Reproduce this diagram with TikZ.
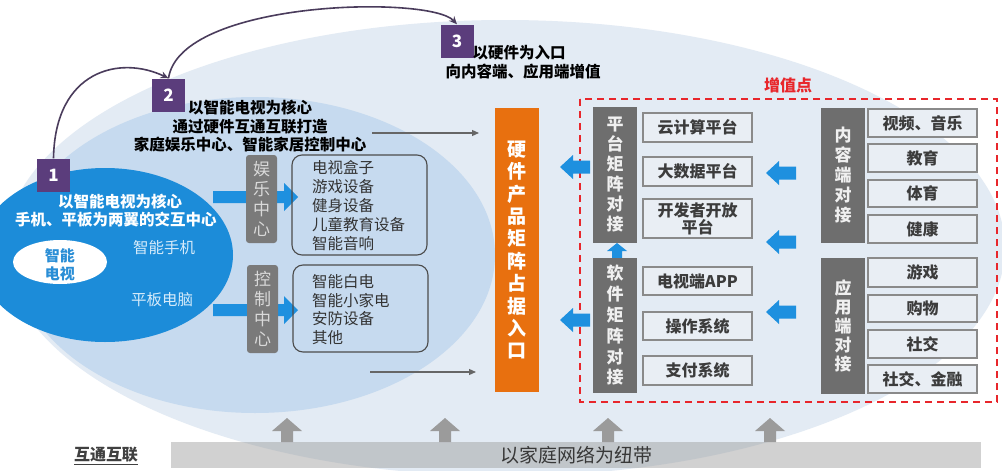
\documentclass[tikz,border=0pt]{standalone}
\usepackage{fontspec}
\setmainfont{Noto Sans CJK SC}
\usetikzlibrary{arrows.meta}
\definecolor{bgpale}{HTML}{E3EBF4}
\definecolor{midblue}{HTML}{C6DAEF}
\definecolor{darkblue}{HTML}{1C8CD9}
\definecolor{numpurple}{HTML}{5B3D7C}
\definecolor{curvecol}{HTML}{4A3C5C}
\definecolor{tvblue}{HTML}{2A8ED6}
\definecolor{softgray}{HTML}{7A7A7A}
\definecolor{vgray}{HTML}{6E6E6E}
\definecolor{itemfill}{HTML}{E9EEF4}
\definecolor{itemdraw}{HTML}{8A8A8A}
\definecolor{itemtext}{HTML}{3C3C3C}
\definecolor{hworange}{HTML}{E8700F}
\definecolor{valred}{HTML}{E8262B}
\definecolor{arrblue}{HTML}{1E90DF}
\definecolor{upgray}{HTML}{9B9B9B}
\definecolor{phonetext}{HTML}{D6EBFA}
\definecolor{listtext}{HTML}{333333}
\begin{document}
\begin{tikzpicture}[x=1pt,y=-1pt,
  every node/.style={inner sep=0pt},
  numbox/.style={fill=numpurple, text=white, font=\fontsize{17}{17}\selectfont\bfseries, minimum width=33pt, minimum height=33pt},
  boldtxt/.style={align=center, font=\fontsize{15.5}{18.5}\selectfont\bfseries, text=black},
  curve/.style={draw=curvecol, line width=1.6pt, -{Stealth[length=8pt,width=7pt]}},
  thinarrow/.style={draw=gray!80!black, line width=1.2pt, -{Triangle[length=7pt,width=6pt]}},
  centerbox/.style={fill=softgray, rounded corners=3pt, minimum width=31pt, align=center, text=white!85!black, font=\fontsize{17}{20}\selectfont},
  listbox/.style={draw=gray!60!black, line width=1.1pt, rounded corners=10pt, minimum width=135pt},
  listline/.style={anchor=west, font=\fontsize{15.5}{15.5}\selectfont, text=listtext},
  vbox/.style={fill=vgray, minimum width=44pt, align=center, text=white!94!black, font=\fontsize{17}{20}\selectfont\bfseries},
  itembox/.style={fill=itemfill, draw=itemdraw, line width=1.4pt, minimum width=109pt, align=center, text=itemtext, font=\fontsize{16}{19}\selectfont\bfseries},
  blockblue/.style={fill=arrblue},
  blockgray/.style={fill=upgray}
]
\useasboundingbox (0,0) rectangle (1002,471);
\begin{scope}
\clip (0,0) rectangle (1002,471);
\fill[white] (0,0) rectangle (1002,471);
\fill[bgpale] (505,248) ellipse [x radius=500pt, y radius=228pt];
\fill[midblue] (255,255) ellipse [x radius=240pt, y radius=158pt];
\fill[darkblue] (105,255) ellipse [x radius=128pt, y radius=87pt];
\fill[white] (60,262) ellipse [x radius=47pt, y radius=22pt];
\end{scope}

% texts in dark ellipse
\node[align=center, font=\fontsize{15}{18}\selectfont\bfseries, text=tvblue] (tv) at (60,265) {智能\\电视};
\node[font=\fontsize{15.5}{15.5}\selectfont\bfseries, text=white] (core1) at (120,202) {以智能电视为核心};
\node[font=\fontsize{15.5}{15.5}\selectfont\bfseries, text=white] (core2) at (116,220) {手机、平板为两翼的交互中心};
\node[font=\fontsize{15.5}{15.5}\selectfont, text=phonetext] (phone) at (164,248) {智能手机};
\node[font=\fontsize{15.5}{15.5}\selectfont, text=phonetext] (pad) at (162,300) {平板电脑};

% number boxes
\node[numbox] (n1) at (53.5,175) {1};
\node[numbox] (n2) at (168.5,95) {2};
\node[numbox] (n3) at (457,41) {3};
\draw[curve] (n1.north) .. controls (55,70) and (120,55) .. (n2.north);
\draw[curve] (n2.north) .. controls (180,0) and (430,-5) .. (n3.north);

\node[boldtxt] (t2) at (250,126.5) {以智能电视为核心\\通过硬件互通互联打造\\家庭娱乐中心、智能家居控制中心};
\node[boldtxt, font=\fontsize{15.5}{19}\selectfont\bfseries] (t3) at (523,62.5) {\hspace*{-8pt}以硬件为入口\\向内容端、应用端增值};

% blue block arrows to centers
\fill[blockblue] (213,191) -- (284,191) -- (284,183) -- (298,197) -- (284,211) -- (284,203) -- (213,203) -- cycle;
\fill[blockblue] (213,304) -- (284,304) -- (284,296) -- (298,310) -- (284,324) -- (284,316) -- (213,316) -- cycle;

% centers
\node[centerbox, minimum height=88pt] (ent) at (261.5,199) {娱\\乐\\中\\心};
\node[centerbox, minimum height=88pt] (ctl) at (262.5,309) {控\\制\\中\\心};
\node[listbox, minimum height=100pt] (entlist) at (359.5,205) {};
\node[listbox, minimum height=87pt] (ctllist) at (360.5,308.5) {};
\foreach \t [count=\i from 0] in {电视盒子,游戏设备,健身设备,儿童教育设备,智能音响}
  \node[listline] (el\i) at (312,168+18.8*\i) {\t};
\foreach \t [count=\i from 0] in {智能白电,智能小家电,安防设备,其他}
  \node[listline] (cl\i) at (312,282+18.4*\i) {\t};

% thin gray arrows
\coordinate (g1s) at (372,133);
\coordinate (g1e) at (479,133);
\coordinate (g2s) at (370,372);
\coordinate (g2e) at (476,372);
\draw[thinarrow] (g1s) -- (g1e);
\draw[thinarrow] (g2s) -- (g2e);

% orange column
\node[fill=hworange, minimum width=44pt, minimum height=284pt, align=center, text=white, font=\fontsize{19}{22.4}\selectfont\bfseries] (hw) at (517,250) {硬\\件\\产\\品\\矩\\阵\\占\\据\\入\\口};

% value-added box
\draw[valred, line width=2.2pt, dash pattern=on 7pt off 5pt] (580,99) rectangle (997,402);
\node[text=valred, font=\fontsize{16}{16}\selectfont\bfseries] (val) at (788,85) {增值点};

% left-pointing blue arrows
\foreach \c in {167,320}
  \fill[blockblue] (560,\c) -- (573,\c-12) -- (573,\c-6.5) -- (590,\c-6.5) -- (590,\c+6.5) -- (573,\c+6.5) -- (573,\c+12) -- cycle;
\foreach \c in {173,242,312}
  \fill[blockblue] (766,\c) -- (779,\c-12) -- (779,\c-6.5) -- (796,\c-6.5) -- (796,\c+6.5) -- (779,\c+6.5) -- (779,\c+12) -- cycle;
\fill[blockblue] (617,243) -- (627,251) -- (622,251) -- (622,258) -- (612,258) -- (612,251) -- (607,251) -- cycle;

% vertical gray boxes
\node[vbox, minimum height=136pt] (plat) at (615,175) {平\\台\\矩\\阵\\对\\接};
\node[vbox, minimum height=135pt, font=\fontsize{17}{20.8}\selectfont\bfseries] (soft) at (615,325.5) {软\\件\\矩\\阵\\对\\接};
\node[vbox, minimum height=135pt] (cont) at (843,175.5) {内\\容\\端\\对\\接};
\node[vbox, minimum height=136pt, font=\fontsize{17}{19}\selectfont\bfseries] (app) at (843,326) {应\\用\\端\\对\\接};

% items
\node[itembox, minimum height=29pt] (i1) at (697.5,127.5) {云计算平台};
\node[itembox, minimum height=29pt] (i2) at (697.5,171.5) {大数据平台};
\node[itembox, minimum height=39pt, font=\fontsize{16}{17}\selectfont\bfseries] (i3) at (697.5,218.5) {开发者开放\\平台};
\node[itembox, minimum height=28pt] (i4) at (697.5,281) {电视端APP};
\node[itembox, minimum height=28pt] (i5) at (697.5,326) {操作系统};
\node[itembox, minimum height=29pt] (i6) at (697.5,370.5) {支付系统};

\node[itembox, minimum height=28pt] (c1) at (922.5,123) {视频、音乐};
\node[itembox, minimum height=28pt] (c2) at (922.5,158) {教育};
\node[itembox, minimum height=27pt] (c3) at (922.5,193.5) {体育};
\node[itembox, minimum height=28pt] (c4) at (922.5,229) {健康};
\node[itembox, minimum height=29pt] (a1) at (922.5,272.5) {游戏};
\node[itembox, minimum height=27pt] (a2) at (922.5,308.5) {购物};
\node[itembox, minimum height=28pt] (a3) at (922.5,344) {社交};
\node[itembox, minimum height=28pt] (a4) at (922.5,379) {社交、金融};

% gray up arrows
\foreach \x in {287,445,608,770}
  \fill[blockgray] (\x,418) -- (\x+15,431) -- (\x+6,431) -- (\x+6,442) -- (\x-6,442) -- (\x-6,431) -- (\x-15,431) -- cycle;

% bottom bar
\fill[black!40, opacity=0.45] (171,442) rectangle (981,468);
\node[font=\fontsize{19}{19}\selectfont, text=black!78] (bar) at (576,455) {以家庭网络为纽带};
\node[font=\fontsize{16}{16}\selectfont\bfseries, text=black!75] (link) at (106,456) {\underline{互通互联}};
\end{tikzpicture}
\end{document}
